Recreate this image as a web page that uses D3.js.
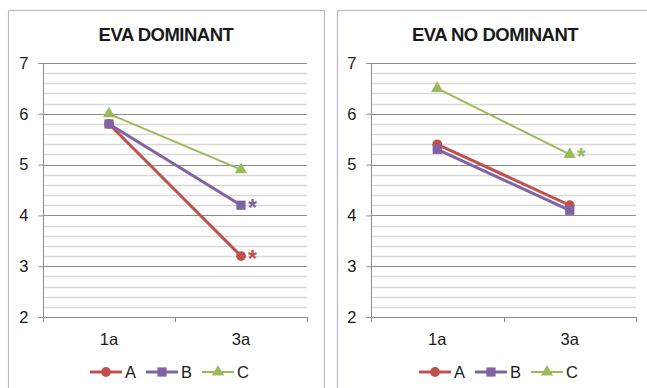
<!DOCTYPE html>
<html>
<head>
<meta charset="utf-8">
<script src="https://cdn.jsdelivr.net/npm/d3@7"></script>
<style>
  html, body { margin: 0; padding: 0; background: #fff; }
  svg { display: block; font-family: "Liberation Sans", Arial, sans-serif; }
</style>
</head>
<body>
<svg id="chart" width="647" height="388"></svg>
<script>
// Time points and series
const categories = ["1a", "3a"];
const seriesNames = ["A", "B", "C"];
const seriesColors = ["#C0504D", "#8064A2", "#9BBB59"];
const seriesSymbols = ["circle", "square", "triangle"];

// EVA scores, dominant side
const dominantA = [5.8, 3.2];
const dominantB = [5.8, 4.2];
const dominantC = [6.0, 4.9];
// EVA scores, non-dominant side
const noDominantA = [5.4, 4.2];
const noDominantB = [5.3, 4.1];
const noDominantC = [6.5, 5.2];

// Significance marks at 3a
const dominantStars = ["A", "B"];
const noDominantStars = ["C"];

const yTicks = [2, 3, 4, 5, 6, 7];
const yDomain = [2, 7];

const FONT = "Liberation Sans, Arial, sans-serif";
const LABEL_SIZE = 16.5;

const panels = [
  { title: "EVA DOMINANT", box: [8, 10, 316, 390], plot: [43, 307],
    series: [dominantA, dominantB, dominantC], stars: dominantStars,
    legendX: 90, titleX: 166 },
  { title: "EVA NO DOMINANT", box: [337, 10, 320, 390], plot: [371, 636],
    series: [noDominantA, noDominantB, noDominantC], stars: noDominantStars,
    legendX: 419, titleX: 495 }
];

const svg = d3.select("#chart");
const y = d3.scaleLinear().domain(yDomain).range([317, 63]);

function symbolPath(kind) {
  if (kind === "circle") return d3.symbol(d3.symbolCircle, 75)();
  if (kind === "square") return d3.symbol(d3.symbolSquare, 85)();
  return d3.symbol(d3.symbolTriangle, 65)();
}

panels.forEach(p => {
  const g = svg.append("g");

  // panel frame
  g.append("rect")
    .attr("x", p.box[0] + 0.5).attr("y", p.box[1] + 0.5)
    .attr("width", p.box[2]).attr("height", p.box[3])
    .attr("fill", "#fff").attr("stroke", "#BDB8D0").attr("stroke-width", 1.2);

  g.append("text")
    .attr("x", p.titleX)
    .attr("y", 41)
    .attr("text-anchor", "middle")
    .attr("font-size", 18.5).attr("font-weight", "bold")
    .attr("letter-spacing", -0.5)
    .attr("fill", "#1a1a1a")
    .text(p.title);

  const x = d3.scaleBand().domain(categories).range(p.plot);

  // minor gridlines every 0.2
  const minor = d3.range(2.2, 7, 0.2).filter(v => Math.abs(v - Math.round(v)) > 0.05);
  g.append("g").selectAll("line").data(minor).join("line")
    .attr("x1", p.plot[0]).attr("x2", p.plot[1])
    .attr("y1", d => Math.round(y(d)) + 0.5).attr("y2", d => Math.round(y(d)) + 0.5)
    .attr("stroke", "#D9D9D9").attr("stroke-width", 1.5);

  // major gridlines
  g.append("g").selectAll("line").data(yTicks.filter(v => v > 2)).join("line")
    .attr("x1", p.plot[0]).attr("x2", p.plot[1])
    .attr("y1", d => Math.round(y(d)) + 0.5).attr("y2", d => Math.round(y(d)) + 0.5)
    .attr("stroke", "#8C8C8C").attr("stroke-width", 1);

  // y axis
  const yAxis = g.append("g")
    .attr("transform", `translate(${p.plot[0] + 0.5},0)`)
    .call(d3.axisLeft(y).tickValues(yTicks).tickSize(5).tickPadding(10).tickFormat(d3.format("d")));
  yAxis.attr("font-size", LABEL_SIZE).attr("font-family", FONT);
  yAxis.select(".domain").attr("stroke", "#8C8C8C").attr("d", `M-5,${y(7)+0.5}H0V${y(2)+0.5}H-5`);
  yAxis.selectAll(".tick line").attr("stroke", "#8C8C8C");
  yAxis.selectAll(".tick text").attr("fill", "#1a1a1a");

  // x axis
  const xAxis = g.append("g")
    .attr("transform", `translate(0,${y(2) + 0.5})`)
    .call(d3.axisBottom(x).tickSize(0).tickPadding(16));
  xAxis.attr("font-size", LABEL_SIZE).attr("font-family", FONT);
  xAxis.select(".domain").remove();
  xAxis.selectAll(".tick text").attr("fill", "#1a1a1a");
  g.append("path")
    .attr("d", `M${p.plot[0]},${y(2)+0.5}H${p.plot[1]}`)
    .attr("stroke", "#8C8C8C").attr("fill", "none");
  g.append("g").selectAll("line").data([p.plot[0], (p.plot[0] + p.plot[1]) / 2, p.plot[1]]).join("line")
    .attr("x1", d => Math.round(d) + 0.5).attr("x2", d => Math.round(d) + 0.5)
    .attr("y1", y(2)).attr("y2", y(2) + 5)
    .attr("stroke", "#8C8C8C");

  const cx = c => x(c) + x.bandwidth() / 2;
  const line = d3.line().x((d, i) => cx(categories[i])).y(d => y(d));

  p.series.forEach((vals, si) => {
    const w = si === 2 ? 2 : 3;
    g.append("path").datum(vals)
      .attr("d", line)
      .attr("fill", "none")
      .attr("stroke", seriesColors[si])
      .attr("stroke-width", w)
      .attr("stroke-linecap", "round");
    g.append("g").selectAll("path").data(vals).join("path")
      .attr("d", symbolPath(seriesSymbols[si]))
      .attr("transform", (d, i) => `translate(${cx(categories[i])},${y(d)})`)
      .attr("fill", seriesColors[si]);
    if (p.stars.includes(seriesNames[si])) {
      g.append("text")
        .attr("x", cx(categories[1]) + 7)
        .attr("y", y(vals[1]) + 11)
        .attr("font-size", 23).attr("font-weight", "bold")
        .attr("fill", seriesColors[si])
        .text("*");
    }
  });

  // legend
  const lg = g.append("g").attr("transform", `translate(${p.legendX},372)`);
  seriesNames.forEach((name, si) => {
    const ox = si * 56;
    lg.append("line")
      .attr("x1", ox).attr("x2", ox + 32).attr("y1", 0).attr("y2", 0)
      .attr("stroke", seriesColors[si]).attr("stroke-width", si === 2 ? 2 : 3);
    lg.append("path")
      .attr("d", symbolPath(seriesSymbols[si]))
      .attr("transform", `translate(${ox + 16},0)`)
      .attr("fill", seriesColors[si]);
    lg.append("text")
      .attr("x", ox + 35).attr("y", 6)
      .attr("font-size", LABEL_SIZE).attr("fill", "#1a1a1a")
      .text(name);
  });
});
</script>
</body>
</html>
